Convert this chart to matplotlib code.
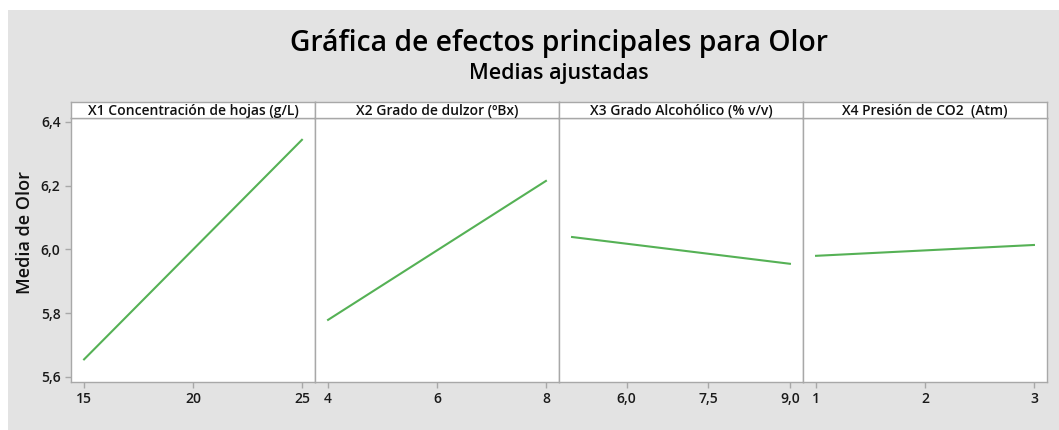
import matplotlib.pyplot as plt
import numpy as np
from matplotlib.patches import Rectangle
from matplotlib.ticker import FuncFormatter

FACTORS = [
    "X1 Concentración de hojas (g/L)",
    "X2 Grado de dulzor (ºBx)",
    "X3 Grado Alcohólico (% v/v)",
    "X4 Presión de CO2  (Atm)",
]
LEVELS = [[15, 25], [4, 8], [5, 9], [1, 3]]
MEANS = [[5.655, 6.344], [5.779, 6.215], [6.039, 5.955], [5.980, 6.014]]
XTICKS = [[15, 20, 25], [4, 6, 8], [6.0, 7.5, 9.0], [1, 2, 3]]
XTICK_DEC = [0, 0, 1, 0]
YTICKS = [5.6, 5.8, 6.0, 6.2, 6.4]

W, H = 1059, 430
FONT = "Open Sans"
BG = "#e3e3e3"
EDGE = "#a8a8a8"
LINE = "#55b155"

fig = plt.figure(figsize=(W / 100, H / 100), dpi=100, facecolor="white")
fig.patches.append(Rectangle((8 / W, 0), 1 - 8 / W, 1 - 10 / H, transform=fig.transFigure,
                             facecolor=BG, edgecolor="none", zorder=-10))


def px(x0, y0, x1, y1):
    return [x0 / W, 1 - y1 / H, (x1 - x0) / W, (y1 - y0) / H]


edges = [71, 315, 559, 803, 1047]


def comma_fmt(dec):
    return FuncFormatter(lambda v, _: f"{v:.{dec}f}".replace(".", ","))


for i, name in enumerate(FACTORS):
    ax = fig.add_axes(px(edges[i], 118, edges[i + 1], 382))
    ax.plot(LEVELS[i], MEANS[i], color=LINE, lw=1.5)
    ax.margins(x=0.06)
    ax.set_ylim(5.584, 6.4125)
    ax.set_xticks(XTICKS[i])
    ax.xaxis.set_major_formatter(comma_fmt(XTICK_DEC[i]))
    ax.set_yticks(YTICKS)
    ax.yaxis.set_major_formatter(comma_fmt(1))
    ax.tick_params(colors=EDGE, labelcolor="#1a1a1a", length=4, width=1, labelsize=10)
    for lab in ax.get_xticklabels() + ax.get_yticklabels():
        lab.set_fontfamily(FONT)
        lab.set_fontweight("semibold")
    if i > 0:
        ax.tick_params(axis="y", left=False, labelleft=False)
    for s in ax.spines.values():
        s.set_color(EDGE)
        s.set_linewidth(1)

    sx = fig.add_axes(px(edges[i], 102, edges[i + 1], 118))
    sx.set_xticks([])
    sx.set_yticks([])
    for s in sx.spines.values():
        s.set_color(EDGE)
        s.set_linewidth(1)
    sx.text(0.5, 0.45, name, ha="center", va="center", fontsize=10, family=FONT,
            fontweight="semibold", color="#111111", transform=sx.transAxes)

fig.text(25 / W, 1 - 232 / H, "Media de Olor", rotation=90, ha="center", va="center",
         fontsize=13, family=FONT, fontweight="semibold", color="#111111")
fig.text(559 / W, 1 - 44 / H, "Gráfica de efectos principales para Olor", ha="center",
         va="center", fontsize=20.3, family=FONT, fontweight="semibold", color="#000000")
fig.text(559 / W, 1 - 73 / H, "Medias ajustadas", ha="center", va="center",
         fontsize=15.5, family=FONT, fontweight="semibold", color="#000000")

fig.savefig("out.png", dpi=100, facecolor=fig.get_facecolor())
